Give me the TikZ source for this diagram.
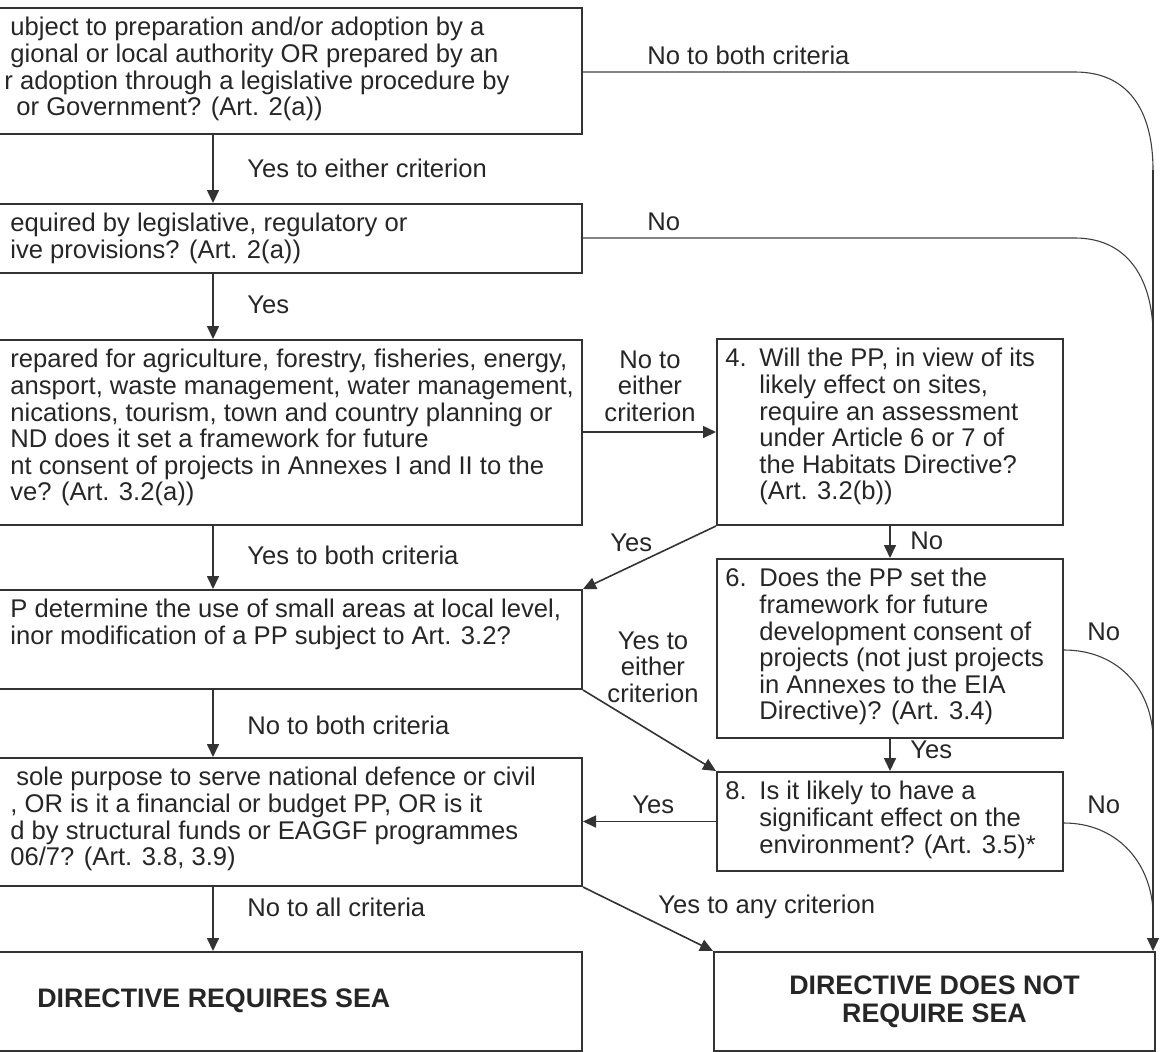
\documentclass[tikz,border=0pt]{standalone}
\usepackage{fontspec}
\setmainfont{Liberation Sans}
\usetikzlibrary{arrows.meta}

\tikzset{
  qbox/.style={draw=black!80, line width=1pt, inner sep=0pt},
  qtext/.style={anchor=north west, align=left, inner sep=0pt},
  flow/.style={draw=black!80, line width=0.8pt, -{Triangle[length=6.5pt,width=6pt]}},
  nope/.style={draw=black!75, line width=0.55pt},
  lbl/.style={anchor=west, inner sep=0pt},
  endtext/.style={inner sep=0pt, font=\fontsize{13.4pt}{14pt}\selectfont\bfseries}
}
\newcommand{\numitem}[1]{\makebox[17pt][l]{#1}}
\newcommand{\indnt}{\hspace*{17pt}}

\begin{document}
\begin{tikzpicture}[x=0.5pt,y=-0.5pt,
    every node/.style={font=\fontsize{12.8pt}{13.3pt}\selectfont, text=black!85}]
  \useasboundingbox (0,0) rectangle (1161,1051);
  \clip (0,0) rectangle (1161,1051);

  % left column
  \node[qbox, minimum width=296.5pt, minimum height=63pt, anchor=north east] (q1) at (583,7) {};
  \node[qbox, minimum width=296.5pt, minimum height=34.5pt, anchor=north east] (q2) at (583,203) {};
  \node[qbox, minimum width=296.5pt, minimum height=92.5pt, anchor=north east] (q3) at (583,339) {};
  \node[qbox, minimum width=296.5pt, minimum height=49.5pt, anchor=north east] (q5) at (583,589) {};
  \node[qbox, minimum width=296.5pt, minimum height=64pt, anchor=north east] (q7) at (583,757) {};
  \node[qbox, minimum width=296.5pt, minimum height=49.5pt, anchor=north east] (sea) at (583,951) {};

  % right column
  \node[qbox, minimum width=173pt, minimum height=93pt, anchor=north west] (q4) at (716,338) {};
  \node[qbox, minimum width=173pt, minimum height=89.5pt, anchor=north west] (q6) at (716,558) {};
  \node[qbox, minimum width=173pt, minimum height=49.5pt, anchor=north west] (q8) at (716,771) {};
  \node[qbox, minimum width=220.5pt, minimum height=49.5pt, anchor=north west] (nosea) at (713,951) {};

  \node[qtext] (q1t) at (10,17) {ubject to preparation and/or adoption by a\\
    gional or local authority OR prepared by an\\
    \hspace*{-3pt}r adoption through a legislative procedure by\\
    \hspace*{3pt}or Government? (Art. 2(a))};
  \node[qtext] (q2t) at (10,213) {equired by legislative, regulatory or\\
    ive provisions? (Art. 2(a))};
  \node[qtext] (q3t) at (10,349) {repared for agriculture, forestry, fisheries, energy,\\
    ansport, waste management, water management,\\
    nications, tourism, town and country planning or\\
    ND does it set a framework for future\\
    nt consent of projects in Annexes I and II to the\\
    ve? (Art. 3.2(a))};
  \node[qtext] (q5t) at (10,599) {P determine the use of small areas at local level,\\
    inor modification of a PP subject to Art. 3.2?};
  \node[qtext] (q7t) at (10,767) {\hspace*{3pt}sole purpose to serve national defence or civil\\
    , OR is it a financial or budget PP, OR is it\\
    d by structural funds or EAGGF programmes\\
    06/7? (Art. 3.8, 3.9)};
  \node[endtext, anchor=west] (seat) at (37,1001) {DIRECTIVE REQUIRES SEA};

  \node[qtext] (q4t) at (725,348) {\numitem{4.}Will the PP, in view of its\\
    \indnt likely effect on sites,\\
    \indnt require an assessment\\
    \indnt under Article 6 or 7 of\\
    \indnt the Habitats Directive?\\
    \indnt (Art. 3.2(b))};
  \node[qtext] (q6t) at (725,568) {\numitem{6.}Does the PP set the\\
    \indnt framework for future\\
    \indnt development consent of\\
    \indnt projects (not just projects\\
    \indnt in Annexes to the EIA\\
    \indnt Directive)? (Art. 3.4)};
  \node[qtext] (q8t) at (725,781) {\numitem{8.}Is it likely to have a\\
    \indnt significant effect on the\\
    \indnt environment? (Art. 3.5)*};
  \node[endtext, align=center] (noseat) at (nosea.center) {DIRECTIVE DOES NOT\\REQUIRE SEA};

  % main line down the left
  \coordinate (vx) at (213,0);
  \coordinate (rx) at (1153,0);
  \draw[flow] (q1.south -| vx) -- (q2.north -| vx);
  \draw[flow] (q2.south -| vx) -- (q3.north -| vx);
  \draw[flow] (q3.south -| vx) -- (q5.north -| vx);
  \draw[flow] (q5.south -| vx) -- (q7.north -| vx);
  \draw[flow] (q7.south -| vx) -- (sea.north -| vx);

  \draw[flow] (q3.east |- q4.west) -- (q4.west);
  \draw[flow] (q4.south west) -- (q5.north east);
  \draw[flow] (q4.south) -- (q6.north);
  \draw[flow] (q5.south east) -- (q8.north west);
  \draw[flow] (q6.south) -- (q8.north);
  \draw[flow] (q8.west) -- (q8.west -| q7.east);
  \draw[flow] (q7.south east) -- (nosea.north west);

  % "no" lines into the right rail
  \draw[nope] (q1.east |- 0,72) -- (1075,72) .. controls (1128,72) and (1153,110) .. (1153,170);
  \draw[nope] (q2.east |- 0,238) -- (1075,238) .. controls (1125,238) and (1151,275) .. (1153,330);
  \draw[nope] (q6.east |- 0,650) .. controls (1115,650) and (1150,685) .. (1153,735);
  \draw[nope] (q8.east |- 0,823) .. controls (1115,823) and (1150,860) .. (1153,910);
  \draw[flow, line width=0.55pt] (1153,170) -- (nosea.north -| rx);

  % labels
  \node[lbl] (l1) at (247,168) {Yes to either criterion};
  \node[lbl] (l2) at (647,55) {No to both criteria};
  \node[lbl] (l3) at (647,222) {No};
  \node[lbl] (l4) at (247,305) {Yes};
  \node[align=center, inner sep=0pt] (l5) at (650,386) {No to\\either\\criterion};
  \node[lbl] (l6) at (247,555) {Yes to both criteria};
  \node[lbl] (l7) at (610,543) {Yes};
  \node[lbl] (l8) at (910,541) {No};
  \node[align=center, inner sep=0pt] (l9) at (653,667) {Yes to\\either\\criterion};
  \node[lbl] (l10) at (247,725) {No to both criteria};
  \node[lbl] (l11) at (910,750) {Yes};
  \node[lbl] (l12) at (1087,632) {No};
  \node[lbl] (l13) at (632,805) {Yes};
  \node[lbl] (l14) at (1087,805) {No};
  \node[lbl] (l15) at (247,907) {No to all criteria};
  \node[lbl] (l16) at (658,907) {Yes to any criterion};
\end{tikzpicture}
\end{document}
